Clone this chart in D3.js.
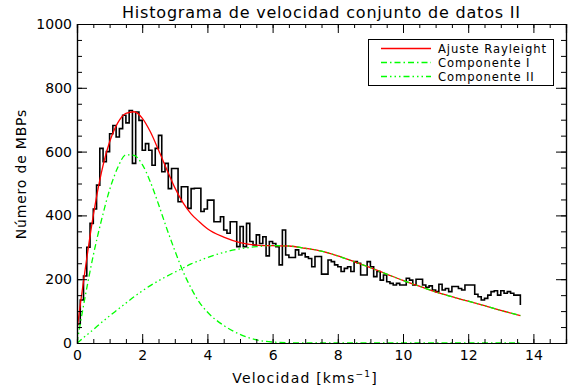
<!DOCTYPE html>
<html>
<head>
<meta charset="utf-8">
<script src="https://cdn.jsdelivr.net/npm/d3@7"></script>
<style>
  html, body { margin: 0; padding: 0; background: #fff; }
  svg { display: block; }
  text { font-family: "DejaVu Sans", sans-serif; fill: #000; }
</style>
</head>
<body>
<svg id="chart" width="569" height="389"></svg>
<script>
// Histogram counts, one per 0.1 km/s bin starting at 0; the last entry is the closing level at 13.6
const binWidth = 0.1;
const counts = [
  60, 135, 210, 300, 375, 420, 495, 610, 568, 600,
  656, 682, 646, 672, 714, 690, 729, 563, 724, 698,
  604, 625, 604, 557, 610, 651, 537, 563, 484, 547,
  547, 443, 490, 490, 422, 484, 485, 485, 412, 420,
  448, 448, 380, 380, 396, 354, 344, 380, 380, 302,
  365, 302, 375, 318, 307, 339, 312, 333, 273, 318,
  312, 302, 245, 354, 276, 268, 268, 292, 276, 281,
  270, 265, 239, 271, 271, 216, 216, 260, 255, 245,
  239, 224, 234, 239, 224, 255, 250, 213, 213, 255,
  239, 208, 224, 197, 213, 192, 187, 182, 187, 182,
  182, 203, 197, 182, 200, 200, 182, 175, 179, 166,
  161, 184, 166, 171, 161, 177, 177, 171, 166, 182,
  182, 182, 153, 145, 135, 140, 150, 161, 164, 150,
  164, 156, 161, 156, 150, 150, 119
];

// Sample velocities for the fitted curves
const curveVel = [0, 0.1, 0.25, 0.5, 0.75, 1, 1.25, 1.5, 1.75, 2, 2.25, 2.5, 2.75, 3, 3.25, 3.5, 3.75, 4,
  4.5, 5, 5.5, 6, 6.5, 7, 7.5, 8, 8.5, 9, 9.5, 10, 10.5, 11, 11.5, 12, 12.5, 13, 13.6];
const fitRayleigh = [40, 120, 230, 400, 535, 630, 690, 720, 725, 705, 662, 605, 545, 487, 440, 405, 380, 358,
  332, 315, 307, 305, 304, 297, 288, 273, 255, 236, 216, 196, 178, 160, 145, 131, 117, 102, 86];
const component1 = [0, 60, 145, 275, 385, 480, 550, 590, 588, 560, 505, 435, 360, 290, 225, 172, 128, 97,
  55, 27, 10, 3, 1, 0, 0, 0, 0, 0, 0, 0, 0, 0, 0, 0, 0, 0, 0];
const component2 = [0, 8, 21, 42, 64, 85, 105, 125, 145, 163, 180, 195, 209, 222, 235, 248, 258, 268,
  284, 295, 302, 305, 304, 297, 288, 273, 255, 236, 216, 196, 178, 160, 145, 131, 117, 102, 86];

const xMajorTicks = [0, 2, 4, 6, 8, 10, 12, 14];
const yMajorTicks = [0, 200, 400, 600, 800, 1000];

const titleText = "Histograma de velocidad conjunto de datos II";
const yTitle = "Número de MBPs";
const legendLabels = ["Ajuste Rayleight", "Componente I", "Componente II"];

const svg = d3.select("#chart");
const plotLeft = 77, plotRight = 566, plotTop = 24, plotBottom = 343;

const x = d3.scaleLinear().domain([0, 15]).range([plotLeft, plotRight]);
const y = d3.scaleLinear().domain([0, 1000]).range([plotBottom, plotTop]);

svg.append("defs").append("clipPath").attr("id", "plotClip")
  .append("rect").attr("x", plotLeft).attr("y", plotTop)
  .attr("width", plotRight - plotLeft).attr("height", plotBottom - plotTop);

const plot = svg.append("g").attr("clip-path", "url(#plotClip)");

// Histogram as a step line
const histPts = counts.map((c, i) => [i * binWidth, c]);
plot.append("path")
  .datum(histPts)
  .attr("fill", "none")
  .attr("stroke", "#000")
  .attr("stroke-width", 1.6)
  .attr("d", d3.line().x(d => x(d[0])).y(d => y(d[1])).curve(d3.curveStepAfter));

const curveLine = d3.line().x(d => x(d[0])).y(d => y(d[1])).curve(d3.curveMonotoneX);
const zipCurve = vals => curveVel.map((v, i) => [v, vals[i]]);

const styles = [
  { vals: fitRayleigh, dash: null },
  { vals: component1, dash: "6,3,1.5,3" },
  { vals: component2, dash: "6,3,1.5,3,1.5,3,1.5,3" }
];
const colors = ["#ff0000", "#00ff00", "#00ff00"];

styles.forEach((s, i) => {
  plot.append("path")
    .datum(zipCurve(s.vals))
    .attr("fill", "none")
    .attr("stroke", colors[i])
    .attr("stroke-width", 1.3)
    .attr("stroke-dasharray", s.dash)
    .attr("d", curveLine);
});

// Axes with major and minor inward ticks on all four sides
const axesG = svg.append("g").attr("class", "axes");
function styleAxis(g) {
  g.selectAll("path.domain").attr("stroke", "#000").attr("stroke-width", 1.2);
  g.selectAll(".tick line").attr("stroke", "#000").attr("stroke-width", 1);
  g.selectAll(".tick text").attr("font-size", 14).attr("font-family", "DejaVu Sans, sans-serif").attr("fill", "#000");
}
const xMinor = d3.range(0, 15.01, 0.5);
const yMinor = d3.range(0, 1001, 50);

axesG.append("g").attr("transform", `translate(0,${plotBottom})`)
  .call(d3.axisBottom(x).tickValues(xMinor).tickSize(-4).tickFormat(""))
  .call(styleAxis);
axesG.append("g").attr("transform", `translate(0,${plotBottom})`)
  .call(d3.axisBottom(x).tickValues(xMajorTicks).tickSizeInner(-9).tickSizeOuter(0).tickPadding(7).tickFormat(d3.format("d")))
  .call(styleAxis);
axesG.append("g").attr("transform", `translate(0,${plotTop})`)
  .call(d3.axisTop(x).tickValues(xMinor).tickSize(-4).tickFormat(""))
  .call(styleAxis);
axesG.append("g").attr("transform", `translate(0,${plotTop})`)
  .call(d3.axisTop(x).tickValues(xMajorTicks).tickSize(-9).tickFormat(""))
  .call(styleAxis);

axesG.append("g").attr("transform", `translate(${plotLeft},0)`)
  .call(d3.axisLeft(y).tickValues(yMinor).tickSize(-5).tickFormat(""))
  .call(styleAxis);
axesG.append("g").attr("transform", `translate(${plotLeft},0)`)
  .call(d3.axisLeft(y).tickValues(yMajorTicks).tickSizeInner(-10).tickSizeOuter(0).tickPadding(5).tickFormat(d3.format("d")))
  .call(styleAxis);
axesG.append("g").attr("transform", `translate(${plotRight},0)`)
  .call(d3.axisRight(y).tickValues(yMinor).tickSize(-5).tickFormat(""))
  .call(styleAxis);
axesG.append("g").attr("transform", `translate(${plotRight},0)`)
  .call(d3.axisRight(y).tickValues(yMajorTicks).tickSize(-10).tickFormat(""))
  .call(styleAxis);

// Titles
svg.append("text")
  .attr("x", 321).attr("y", 18)
  .attr("text-anchor", "middle")
  .attr("font-size", 16)
  .attr("textLength", 398).attr("lengthAdjust", "spacing")
  .text(titleText);

const xt = svg.append("text")
  .attr("x", 305).attr("y", 383)
  .attr("text-anchor", "middle")
  .attr("font-size", 14)
  .attr("letter-spacing", 1.2);
xt.append("tspan").text("Velocidad [kms");
xt.append("tspan").attr("font-size", 9).attr("dy", -6).text("−1");
xt.append("tspan").attr("dy", 6).text("]");

svg.append("text")
  .attr("transform", "translate(26,174) rotate(-90)")
  .attr("text-anchor", "middle")
  .attr("font-size", 14)
  .attr("letter-spacing", 0.8)
  .text(yTitle);

// Legend
const legend = svg.append("g");
legend.append("rect")
  .attr("x", 368.5).attr("y", 39.5).attr("width", 185).attr("height", 46)
  .attr("fill", "#fff").attr("stroke", "#000").attr("stroke-width", 1);
legendLabels.forEach((lab, i) => {
  const ly = 48.5 + i * 14;
  legend.append("line")
    .attr("x1", 381).attr("x2", 431).attr("y1", ly).attr("y2", ly)
    .attr("stroke", colors[i]).attr("stroke-width", 1.3)
    .attr("stroke-dasharray", styles[i].dash);
  legend.append("text")
    .attr("x", 438).attr("y", ly + 4)
    .attr("font-size", 11.6)
    .attr("letter-spacing", 0.9)
    .text(lab);
});
</script>
</body>
</html>
